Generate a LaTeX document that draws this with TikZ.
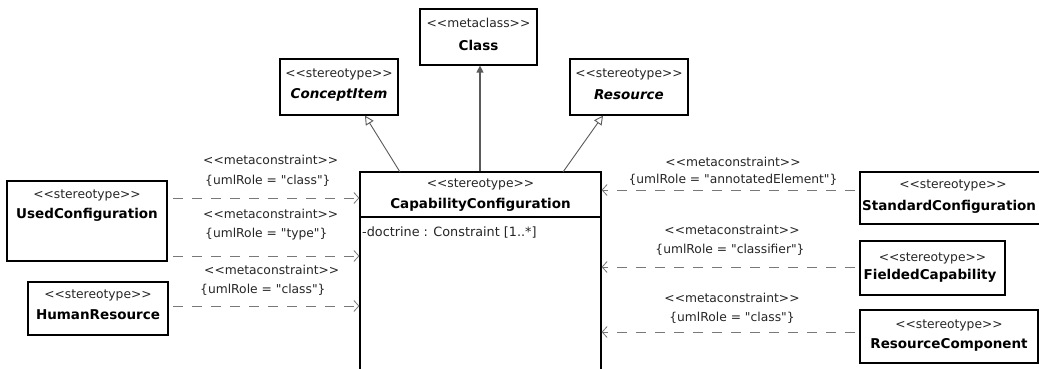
\documentclass[tikz,border=0pt]{standalone}
\usepackage{fontspec}
\setmainfont{DejaVu Sans}[Ligatures=TeXOff]
\usetikzlibrary{arrows.meta}
\definecolor{lncol}{RGB}{90,90,90}
\definecolor{dshcol}{RGB}{120,120,120}
\begin{document}
\begin{tikzpicture}[x=1pt,y=-1pt,
  box/.style={draw=black, line width=1.2pt, inner sep=0pt},
  st/.style={inner sep=0pt, font=\fontsize{12.3}{14}\selectfont, text=black!85},
  nm/.style={inner sep=0pt, font=\fontsize{13.5}{15}\selectfont\bfseries},
  nmi/.style={inner sep=0pt, font=\fontsize{13.5}{15}\selectfont\bfseries\itshape},
  lbl/.style={inner sep=0pt, font=\fontsize{12.3}{14}\selectfont, text=black!85},
  dep/.style={draw=dshcol, line width=0.8pt, dash pattern=on 10pt off 9pt,
    -{Straight Barb[length=5pt,width=11pt,line width=0.8pt]}},
  gen/.style={draw=lncol, line width=0.9pt, -{Triangle[open,length=9pt,width=9pt,line width=0.9pt]}},
  inh/.style={draw=lncol, line width=1.2pt, -{Triangle[length=7pt,width=7pt]}}]
\useasboundingbox (0,0) rectangle (1039,369);
\fill[white] (0,0) rectangle (1039,369);

% Class
\node[box, minimum width=117pt, minimum height=56pt] (cls) at (478.5,37) {};
\node[st] (clsS) at (478.5,23) {<<metaclass>>};
\node[nm] (clsN) at (478.5,45) {Class};

% ConceptItem
\node[box, minimum width=118pt, minimum height=56pt] (ci) at (339,87) {};
\node[st] (ciS) at (339,74) {<<stereotype>>};
\node[nmi] (ciN) at (339,95) {ConceptItem};

% Resource
\node[box, minimum width=118pt, minimum height=56pt] (res) at (629,87) {};
\node[st] (resS) at (629,74) {<<stereotype>>};
\node[nmi] (resN) at (629,95) {Resource};

% CapabilityConfiguration
\node[box, minimum width=241pt, minimum height=210pt] (cc) at (480.5,277) {};
\draw[line width=1.2pt] (cc.west |- 0,217) coordinate (ccdl) -- (cc.east |- 0,217) coordinate (ccdr);
\node[st] (ccS) at (480.5,184) {<<stereotype>>};
\node[nm] (ccN) at (480.5,205) {CapabilityConfiguration};
\node[st, anchor=west, font=\fontsize{12.8}{14}\selectfont] (ccA) at (362,232) {-doctrine : Constraint [1..*]};

% UsedConfiguration
\node[box, minimum width=160pt, minimum height=80pt] (uc) at (87,221) {};
\node[st] (ucS) at (87,195) {<<stereotype>>};
\node[nm] (ucN) at (87,215) {UsedConfiguration};

% HumanResource
\node[box, minimum width=140pt, minimum height=53pt] (hr) at (98,308.5) {};
\node[st] (hrS) at (98,295) {<<stereotype>>};
\node[nm] (hrN) at (98,315) {HumanResource};

% StandardConfiguration
\node[box, minimum width=186pt, minimum height=52pt] (sc) at (953,198) {};
\node[st] (scS) at (953,185) {<<stereotype>>};
\node[nm, anchor=west] (scN) at (862,207) {StandardConfiguration};

% FieldedCapability
\node[box, minimum width=145pt, minimum height=54pt] (fc) at (932.5,268) {};
\node[st] (fcS) at (932.5,258) {<<stereotype>>};
\node[nm] (fcN) at (930,276) {FieldedCapability};

% ResourceComponent
\node[box, minimum width=178pt, minimum height=53pt] (rc) at (949,336.5) {};
\node[st] (rcS) at (949,325) {<<stereotype>>};
\node[nm] (rcN) at (949,345) {ResourceComponent};

% generalizations
\coordinate (g1) at (400,172);
\coordinate (g1e) at (365,115.6);
\coordinate (g2) at (563,172);
\coordinate (g2e) at (603,115.6);
\draw[gen] (g1) -- (g1e);
\draw[gen] (g2) -- (g2e);
\draw[inh] (cc.north -| 480,0) -- (cls.south -| 480,0);

% left dependencies
\coordinate (l1) at (173,198);
\coordinate (l2) at (173,256);
\coordinate (l3) at (173,306);
\draw[dep] (l1) -- (cc.west |- l1);
\draw[dep] (l2) -- (cc.west |- l2);
\draw[dep] (l3) -- (cc.west |- l3);
\node[lbl, anchor=west] (l1a) at (203,160) {<<metaconstraint>>};
\node[lbl, anchor=west] (l1b) at (205,181) {\{umlRole = "class"\}};
\node[lbl, anchor=west] (l2a) at (203,214) {<<metaconstraint>>};
\node[lbl, anchor=west] (l2b) at (205,234) {\{umlRole = "type"\}};
\node[lbl, anchor=west] (l3a) at (204,270) {<<metaconstraint>>};
\node[lbl, anchor=west] (l3b) at (200,290) {\{umlRole = "class"\}};

% right dependencies
\coordinate (r1) at (855,190);
\coordinate (r2) at (855,267);
\coordinate (r3) at (855,332);
\draw[dep] (r1) -- (cc.east |- r1);
\draw[dep] (r2) -- (cc.east |- r2);
\draw[dep] (r3) -- (cc.east |- r3);
\node[lbl] (r1a) at (733,162) {<<metaconstraint>>};
\node[lbl] (r1b) at (733,180) {\{umlRole = "annotatedElement"\}};
\node[lbl] (r2a) at (732,230) {<<metaconstraint>>};
\node[lbl] (r2b) at (730,250) {\{umlRole = "classifier"\}};
\node[lbl] (r3a) at (732,298) {<<metaconstraint>>};
\node[lbl] (r3b) at (732,318) {\{umlRole = "class"\}};
\end{tikzpicture}
\end{document}
